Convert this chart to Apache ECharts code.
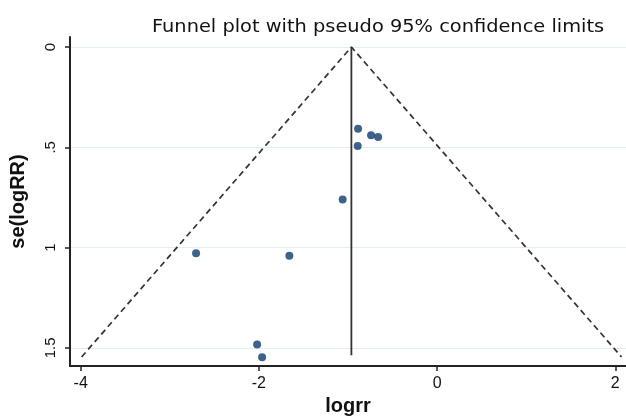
<!DOCTYPE html>
<html>
<head>
<meta charset="utf-8">
<script src="https://cdn.jsdelivr.net/npm/echarts@6/dist/echarts.min.js"></script>
<style>
html,body{margin:0;padding:0;background:#fff;}
#chart{width:626px;height:416px;}
</style>
</head>
<body>
<div id="chart"></div>
<script>
// Study estimates
const logrr = [-0.887, -0.891, -0.741, -0.662, -1.06, -2.705, -1.658, -2.02, -1.964];
const seLogRR = [0.407, 0.493, 0.44, 0.448, 0.76, 1.028, 1.04, 1.483, 1.546];
// Pooled estimate line (vertical)
const pooledX = [-0.962, -0.962];
const pooledY = [0, 1.536];
// Pseudo 95% confidence limits (dashed funnel)
const funnelX = [-3.99, -0.962, 2.07];
const funnelY = [1.545, 0, 1.545];
// Tick labels
const xTicks = [-4, -2, 0, 2];
const yTicks = [0, 0.5, 1, 1.5];
const yTickText = {0: '0', 0.5: '.5', 1: '1', 1.5: '1.5'};
const titleText = 'Funnel plot with pseudo 95% confidence limits';

const chart = echarts.init(document.getElementById('chart'));
const font = 'Liberation Sans, Arial, sans-serif';
chart.setOption({
  animation: false,
  backgroundColor: '#fff',
  graphic: [{
    type: 'text', x: 152, y: 28, scaleX: 1.14,
    style: {text: titleText, fontFamily: 'DejaVu Sans, sans-serif', fontSize: 17, fill: '#111',
      verticalAlign: 'middle', align: 'left'}
  }],
  grid: {left: 70, right: 0, top: 37, bottom: 50, containLabel: false, outerBoundsMode: 'none'},
  xAxis: {
    type: 'value', min: -4.12, max: 2.12,
    name: 'logrr', nameLocation: 'middle', nameGap: 27,
    nameTextStyle: {fontFamily: font, fontSize: 20, fontWeight: 'bold', color: '#111'},
    axisLine: {show: true, onZero: false, lineStyle: {color: '#222', width: 2}},
    axisTick: {show: true, length: 5, customValues: xTicks, lineStyle: {color: '#222', width: 1.5}},
    axisLabel: {customValues: xTicks, margin: 10, fontFamily: font, fontSize: 16, color: '#111'},
    splitLine: {show: false}
  },
  yAxis: {
    type: 'value', inverse: true, min: -0.05, max: 1.59,
    name: 'se(logRR)', nameLocation: 'middle', nameGap: 42, nameRotate: 90,
    nameTextStyle: {fontFamily: font, fontSize: 20, fontWeight: 'bold', color: '#111'},
    axisLine: {show: true, onZero: false, lineStyle: {color: '#222', width: 2}},
    axisTick: {show: true, length: 5, customValues: yTicks, lineStyle: {color: '#222', width: 1.5}},
    axisLabel: {customValues: yTicks, rotate: 90, margin: 12, fontFamily: font, fontSize: 15, color: '#111',
      formatter: v => yTickText[v] !== undefined ? yTickText[v] : String(v)},
    splitLine: {show: true, lineStyle: {color: '#e2eef2', width: 1}}
  },
  series: [
    {
      type: 'line', data: pooledX.map((x, i) => [x, pooledY[i]]),
      symbol: 'none', lineStyle: {color: '#333', width: 1.8}, z: 3
    },
    {
      type: 'line', data: funnelX.map((x, i) => [x, funnelY[i]]),
      symbol: 'none', lineStyle: {color: '#333', width: 1.7, type: [6, 4]}, z: 3
    },
    {
      type: 'scatter', data: logrr.map((x, i) => [x, seLogRR[i]]),
      symbol: 'circle', symbolSize: 8, itemStyle: {color: '#0f3b6e'}, z: 4
    }
  ]
});
</script>
</body>
</html>
